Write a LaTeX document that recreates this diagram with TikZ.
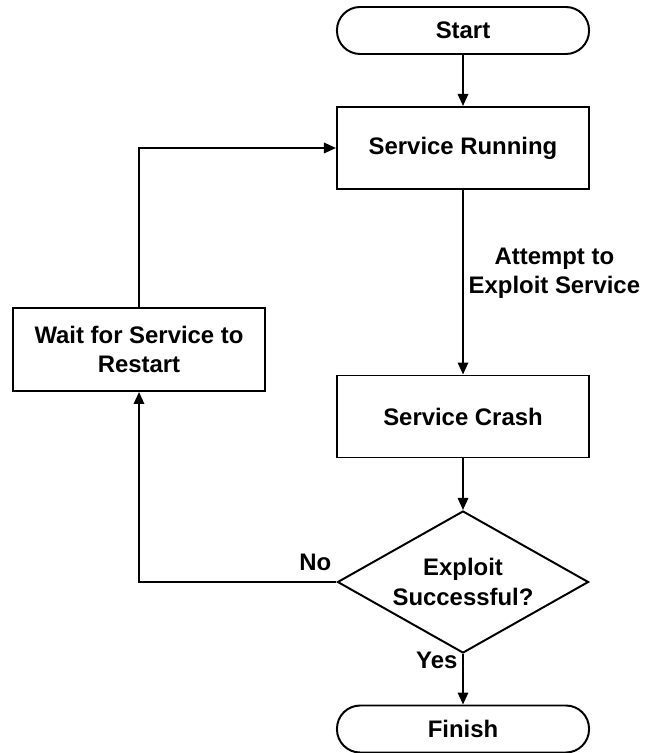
\documentclass[tikz,border=0pt]{standalone}
\usepackage{fontspec}
\setmainfont{Liberation Sans}
\usetikzlibrary{shapes.geometric,arrows.meta}

\begin{document}
\begin{tikzpicture}[x=0.025cm,y=-0.025cm,
  font=\fontsize{17}{21}\selectfont\bfseries,
  line width=1.4pt,
  >={Triangle[length=0.3cm,width=0.26cm]},
  terminal/.style={draw,rectangle,rounded corners=0.58cm,minimum width=6.3cm,minimum height=1.175cm,align=center},
  process/.style={draw,rectangle,minimum width=6.3cm,minimum height=2.05cm,align=center},
  decision/.style={draw,diamond,aspect=1.77,inner sep=0pt,minimum width=6.275cm,minimum height=3.55cm,align=center}]
\useasboundingbox (0,0) rectangle (647,753);
\node [terminal] (start) at (463,30.5) {Start};
\node [process] (run) at (463,148) {Service Running};
\node [process] (crash) at (463,416.5) {Service Crash};
\node [decision] (check) at (463,582) {Exploit\\Successful?};
\node [terminal] (finish) at (463,729) {Finish};
\node [process, minimum height=2.075cm] (wait) at (139,349.5) {Wait for Service to\\Restart};
\draw [->] (start) -- (run);
\draw [->] (run) -- node [right, pos=0.45, align=center] {Attempt to\\Exploit Service} (crash);
\draw [->] (crash) -- (check);
\draw [->] (check) -- node [left, pos=0.13] {Yes} (finish);
\draw [->] (check.west) -- node [above left, pos=0, inner sep=3pt, yshift=4pt] {No} ++(0,0) -| (wait.south);
\draw [->] (wait.north) |- (run.west);
\end{tikzpicture}
\end{document}
